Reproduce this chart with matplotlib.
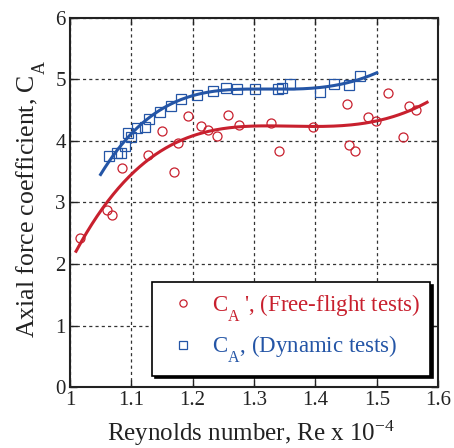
import numpy as np
import matplotlib
matplotlib.use("Agg")
import matplotlib.pyplot as plt
import matplotlib._mathtext as _mt

# lower subscripts more (as in the reference typography)
_mt.FontConstantsBase.sub1 = 0.95
_mt.FontConstantsBase.sub2 = 1.0

plt.rcParams['font.family'] = ['Liberation Serif', 'DejaVu Serif']
plt.rcParams['mathtext.fontset'] = 'custom'
plt.rcParams['mathtext.rm'] = 'Liberation Serif'
plt.rcParams['mathtext.it'] = 'Liberation Serif:italic'

# Free-flight tests (red circles)
ff_re = [1.016, 1.060, 1.069, 1.085, 1.127, 1.150, 1.170, 1.176, 1.193, 1.214, 1.225,
         1.240, 1.258, 1.276, 1.328, 1.341, 1.396, 1.452, 1.455, 1.465, 1.486, 1.498,
         1.519, 1.543, 1.553, 1.564]
ff_ca = [2.42, 2.88, 2.80, 3.56, 3.77, 4.16, 3.50, 3.97, 4.41, 4.24, 4.18,
         4.08, 4.42, 4.26, 4.29, 3.84, 4.23, 4.60, 3.93, 3.84, 4.39, 4.32,
         4.78, 4.07, 4.57, 4.50]

# Dynamic tests (blue squares)
dy_re = [1.064, 1.077, 1.083, 1.090, 1.095, 1.100, 1.109, 1.122, 1.129, 1.147, 1.165,
         1.181, 1.207, 1.233, 1.254, 1.272, 1.302, 1.339, 1.346, 1.359, 1.408, 1.431,
         1.455, 1.473]
dy_ca = [3.76, 3.80, 3.80, 3.92, 4.13, 4.07, 4.21, 4.23, 4.36, 4.47, 4.57,
         4.68, 4.75, 4.81, 4.86, 4.85, 4.85, 4.85, 4.86, 4.93, 4.80, 4.93,
         4.91, 5.06]

# Trend-curve points
ff_fit_re = [1.010, 1.062, 1.176, 1.310, 1.396, 1.498, 1.582]
ff_fit_ca = [2.20, 3.04, 3.97, 4.26, 4.23, 4.32, 4.63]
dy_fit_re = [1.050, 1.100, 1.200, 1.310, 1.396, 1.500]
dy_fit_ca = [3.45, 4.13, 4.72, 4.86, 4.85, 5.11]

xticks = [1, 1.1, 1.2, 1.3, 1.4, 1.5, 1.6]
xticklabels = ['1', '1.1', '1.2', '1.3', '1.4', '1.5', '1.6']
yticks = [0, 1, 2, 3, 4, 5, 6]

red = '#C8202E'
blue = '#2455A6'
ink = '#222222'

fig = plt.figure(figsize=(4.54, 4.48), dpi=100)
ax = fig.add_axes([0.154, 0.136, 0.811, 0.824])

# trend curves
c = np.polyfit(ff_fit_re, ff_fit_ca, 4)
xs = np.linspace(ff_fit_re[0], ff_fit_re[-1], 200)
ax.plot(xs, np.polyval(c, xs), color=red, lw=2.2, zorder=3)
c = np.polyfit(dy_fit_re, dy_fit_ca, 4)
xs = np.linspace(dy_fit_re[0], dy_fit_re[-1], 200)
ax.plot(xs, np.polyval(c, xs), color=blue, lw=2.2, zorder=3)

ax.plot(ff_re, ff_ca, 'o', ms=6.5, mfc='none', mec=red, mew=0.9, zorder=4,
        label="C$_\\mathrm{A}$\u2009', (Free-flight tests)")
ax.plot(dy_re, dy_ca, 's', ms=6.5, mfc='none', mec=blue, mew=0.9, zorder=4,
        label="C$_\\mathrm{A}$, (Dynamic tests)")

ax.set_xlim(1, 1.6)
ax.set_ylim(0, 6)
ax.set_xticks(xticks)
ax.set_xticklabels(xticklabels)
ax.set_yticks(yticks)
ax.tick_params(direction='in', top=True, right=True, labelsize=15, length=5, width=1,
               colors=ink, pad=3)
ax.grid(True, color='#333333', linestyle=(0, (2.5, 2.5)), lw=0.9)
for s in ax.spines.values():
    s.set_linewidth(1.5)
    s.set_color(ink)

ax.set_xlabel("Reynolds number, Re x 10$^{-4}$", fontsize=18, color=ink)
ax.set_ylabel("Axial force coefficient, C$_\\mathrm{A}$", fontsize=18.5, color=ink)
ax.xaxis.set_label_coords(0.492, -0.085)
ax.yaxis.set_label_coords(-0.06, 0.51)

leg = ax.legend(loc='upper left', bbox_to_anchor=(0.223, 0.285), fontsize=16.5,
                frameon=True, fancybox=False, shadow={'color': 'black', 'alpha': 1},
                edgecolor='black', handlelength=1.8, handletextpad=0.35,
                borderpad=0.45, labelspacing=0.45, framealpha=1, markerscale=0.8,
                borderaxespad=0)
leg.get_frame().set_linewidth(1.2)
for t, col in zip(leg.get_texts(), [red, blue]):
    t.set_color(col)

fig.savefig('out.png', dpi=100)
